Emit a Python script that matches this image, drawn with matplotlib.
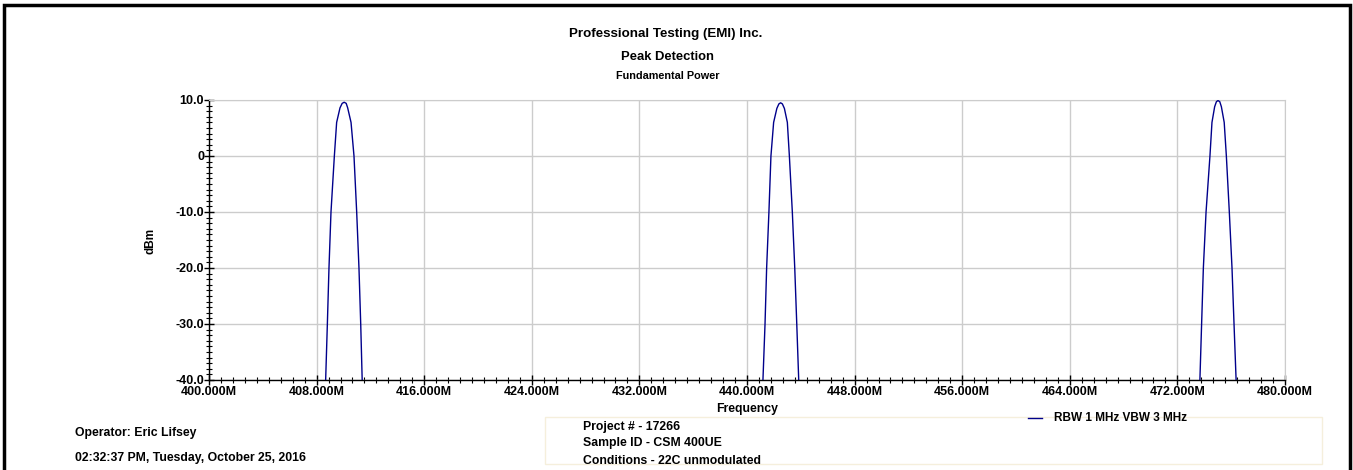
import matplotlib
matplotlib.use("Agg")
import matplotlib.pyplot as plt
from matplotlib.patches import Rectangle
from matplotlib.ticker import MultipleLocator, AutoMinorLocator, FixedLocator

plt.rcParams["font.family"] = ["Liberation Sans", "DejaVu Sans"]
plt.rcParams["font.weight"] = "bold"

# trace, one list per visible peak (MHz, dBm)
PEAK1_F = [408.66, 408.80, 408.92, 409.07, 409.32, 409.49, 409.74, 409.90, 410.05,
           410.20, 410.31, 410.56, 410.78, 410.98, 411.15, 411.28, 411.40]
PEAK1_DB = [-41, -30, -20, -10, 0, 6, 8.6, 9.4, 9.6, 9.4, 8.6, 6, 0, -10, -20, -30, -41]

PEAK2_F = [441.17, 441.34, 441.46, 441.63, 441.78, 441.98, 442.22, 442.37, 442.50,
           442.63, 442.78, 443.00, 443.15, 443.37, 443.55, 443.70, 443.86]
PEAK2_DB = [-41, -30, -20, -10, 0, 6, 8.5, 9.3, 9.5, 9.3, 8.5, 6, 0, -10, -20, -30, -41]

PEAK3_F = [473.66, 473.80, 473.93, 474.13, 474.42, 474.57, 474.77, 474.90, 475.02,
           475.15, 475.27, 475.48, 475.64, 475.86, 476.06, 476.21, 476.38]
PEAK3_DB = [-41, -30, -20, -10, 0, 6, 8.8, 9.7, 9.9, 9.7, 8.8, 6, 0, -10, -20, -30, -41]

X_TICKS = [400, 408, 416, 424, 432, 440, 448, 456, 464, 472, 480]
X_LABELS = ["%.3fM" % v for v in X_TICKS]
Y_TICKS = [-40, -30, -20, -10, 0, 10]
Y_LABELS = ["-40.0", "-30.0", "-20.0", "-10.0", "0", "10.0"]

TRACE = "#00008b"
GRID = "#cccccc"
W, H = 1353, 470

fig = plt.figure(figsize=(W / 100, H / 100), dpi=100)
fig.patch.set_facecolor("white")

# outer black frame (open at the bottom edge of the crop)
fig.add_artist(Rectangle((4 / W, -0.05), 1346 / W, 1 - 5 / H + 0.05,
                         transform=fig.transFigure, fill=False,
                         edgecolor="black", linewidth=2.5))

ax = fig.add_axes([209 / W, 1 - 380 / H, (1285 - 209) / W, (380 - 100) / H])
for f, db in [(PEAK1_F, PEAK1_DB), (PEAK2_F, PEAK2_DB), (PEAK3_F, PEAK3_DB)]:
    ax.plot(f, db, color=TRACE, linewidth=1.0, zorder=3)

ax.set_xlim(400, 480)
ax.set_ylim(-40, 10)
ax.xaxis.set_major_locator(FixedLocator(X_TICKS))
ax.set_xticklabels(X_LABELS)
ax.xaxis.set_minor_locator(AutoMinorLocator(9))
ax.yaxis.set_major_locator(FixedLocator(Y_TICKS))
ax.set_yticklabels(Y_LABELS)
ax.yaxis.set_minor_locator(MultipleLocator(1))
ax.grid(True, which="major", color=GRID, linewidth=1.0, zorder=0)
ax.set_axisbelow(True)
for s in ("top", "right"):
    ax.spines[s].set_color(GRID)
for s in ("left", "bottom"):
    ax.spines[s].set_color("black")
    ax.spines[s].set_linewidth(1.0)
ax.tick_params(which="major", direction="inout", length=7, width=1.0,
               labelsize=9, pad=0)
ax.tick_params(which="minor", direction="inout", length=4, width=0.8)
ax.tick_params(axis="x", which="major", pad=1)
for lab in ax.get_xticklabels() + ax.get_yticklabels():
    lab.set_fontweight("bold")

fig.text(150 / W, 1 - 241 / H, "dBm", rotation=90, ha="center", va="center",
         fontsize=8.5, fontweight="bold")
fig.text(747 / W, 1 - 409 / H, "Frequency", ha="center", va="center",
         fontsize=8.8, fontweight="bold")

fig.text(666 / W, 1 - 34 / H, "Professional Testing (EMI) Inc.", ha="center",
         va="center", fontsize=9.6, fontweight="bold")
fig.text(667 / W, 1 - 57 / H, "Peak Detection", ha="center", va="center",
         fontsize=9.4, fontweight="bold")
fig.text(668 / W, 1 - 76 / H, "Fundamental Power", ha="center", va="center",
         fontsize=7.8, fontweight="bold")

# info box at the bottom
fig.add_artist(Rectangle((545 / W, 1 - 464 / H), (1322 - 545) / W, 47 / H,
                         transform=fig.transFigure, facecolor="white",
                         edgecolor="#f5efdc", linewidth=1.0))
fig.text(75 / W, 1 - 433 / H, "Operator: Eric Lifsey", ha="left", va="center",
         fontsize=8.8, fontweight="bold")
fig.text(75 / W, 1 - 458 / H, "02:32:37 PM, Tuesday, October 25, 2016",
         ha="left", va="center", fontsize=8.8, fontweight="bold")
fig.text(583 / W, 1 - 427 / H, "Project # - 17266", ha="left", va="center",
         fontsize=8.8, fontweight="bold")
fig.text(583 / W, 1 - 443 / H, "Sample ID - CSM 400UE", ha="left", va="center",
         fontsize=8.8, fontweight="bold")
fig.text(583 / W, 1 - 461 / H, "Conditions - 22C unmodulated", ha="left",
         va="center", fontsize=8.8, fontweight="bold")

# legend entry
fig.add_artist(plt.Line2D([1028 / W, 1042 / W], [1 - 418 / H, 1 - 418 / H],
                          transform=fig.transFigure, color=TRACE, linewidth=1.0))
fig.text(1054 / W, 1 - 418 / H, "RBW 1 MHz VBW 3 MHz", ha="left", va="center",
         fontsize=8.5, fontweight="bold")

fig.savefig("out.png", dpi=100, facecolor="white")
